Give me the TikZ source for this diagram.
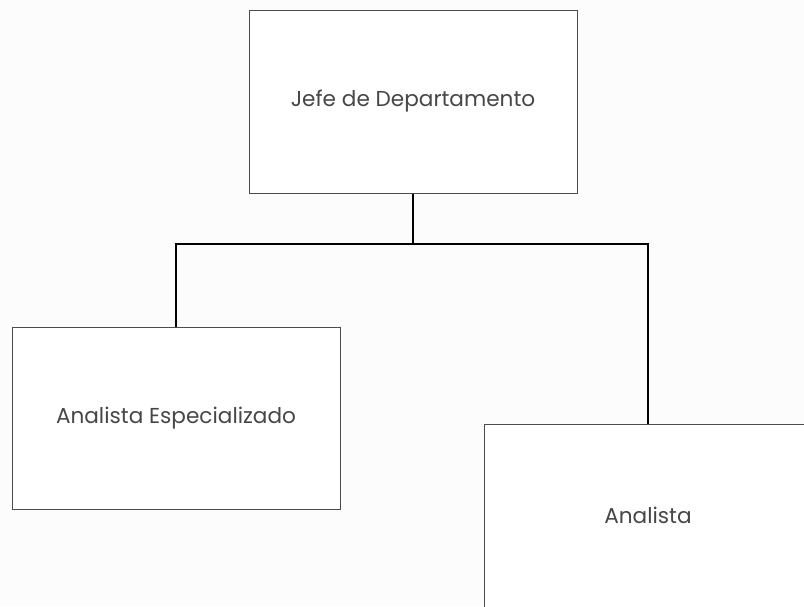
\documentclass[tikz,border=0pt]{standalone}
\usepackage{fontspec}
\setmainfont{Poppins}
\begin{document}
\begin{tikzpicture}[x=1pt,y=1pt,
  orgbox/.style={draw=black!70,line width=1pt,fill=white,minimum width=328pt,minimum height=183pt,inner sep=0pt,
    font=\fontsize{21.6}{24}\selectfont,text=black!72},
  link/.style={draw=black,line width=2pt}]
\useasboundingbox (0,0) rectangle (804,-606);
\clip (0,0) rectangle (804,-606);
\fill[white!99!black] (0,0) rectangle (804,-606);
\node[orgbox] (jefe) at (413,-101.5) {Jefe de Departamento};
\node[orgbox,minimum height=182pt] (esp) at (176,-418) {Analista Especializado};
\node[orgbox] (ana) at (648,-515.5) {Analista};
\coordinate (bus) at (412,-244);
\draw[link] (jefe.south) -- (jefe.south |- bus);
\draw[link] (esp.north) |- (bus) -| (ana.north);
\end{tikzpicture}
\end{document}
